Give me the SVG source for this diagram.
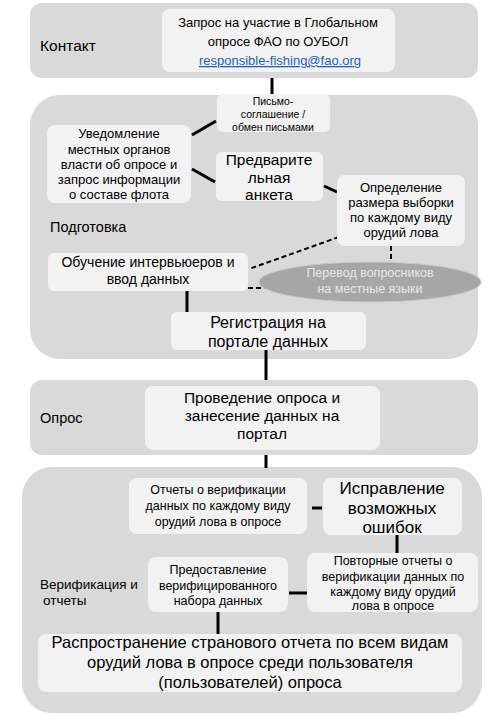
<svg xmlns="http://www.w3.org/2000/svg" width="500" height="723" viewBox="0 0 500 723">
<style>
.panel{fill:#d9d9d9}
.node{fill:#f2f2f2}
text{font-family:"Liberation Sans","Noto Sans",sans-serif;fill:#000;text-anchor:middle}
.lbl{text-anchor:start}
.c{stroke:#000;stroke-width:3;fill:none}
.d{stroke:#000;stroke-width:2;fill:none;stroke-dasharray:5 3}
.link{fill:#1f5fbf;text-decoration:underline}
</style>
<rect width="500" height="723" fill="#fff"/>
<g id="panels">
<rect class="panel" x="30" y="3" width="448" height="75" rx="12"/>
<rect class="panel" x="30" y="95" width="448" height="264" rx="30"/>
<rect class="panel" x="30" y="380" width="448" height="75" rx="12"/>
<rect class="panel" x="22" y="467" width="460" height="246" rx="30"/>
<text class="lbl" x="40" y="51" font-size="15.5">Контакт</text>
<text class="lbl" x="50" y="232" font-size="14.5">Подготовка</text>
<text class="lbl" x="40" y="423" font-size="14.5">Опрос</text>
<text class="lbl" x="40" y="589" font-size="13.5">Верификация и</text>
<text class="lbl" x="43" y="605" font-size="13.5">отчеты</text>
</g>
<g id="connectors">
<line class="c" x1="272" y1="78" x2="272" y2="95"/>
<line class="c" x1="192" y1="135" x2="216" y2="121"/>
<line class="c" x1="192" y1="169" x2="215" y2="182"/>
<line class="c" x1="324" y1="186" x2="337" y2="192"/>
<line class="d" x1="339" y1="237" x2="249" y2="269"/>
<line class="d" x1="391" y1="246" x2="391" y2="262"/>
<line class="d" x1="248" y1="288" x2="268" y2="288"/>
<line class="c" x1="187" y1="291" x2="187" y2="313"/>
<line class="c" x1="266" y1="350" x2="266" y2="380"/>
<line class="c" x1="266" y1="455" x2="266" y2="468"/>
<line class="c" x1="312" y1="508" x2="322" y2="508"/>
<line class="c" x1="397" y1="535" x2="397" y2="554"/>
<line class="c" x1="289" y1="593" x2="307" y2="593"/>
<line class="c" x1="218" y1="612" x2="218" y2="634"/>
</g>
<g id="n-request">
<rect class="node" x="162" y="9" width="233" height="63" rx="8"/>
<text x="278" y="27" font-size="13">Запрос на участие в Глобальном</text>
<text x="278" y="46" font-size="13">опросе ФАО по ОУБОЛ</text>
<text class="link" x="280" y="65" font-size="13">responsible-fishing@fao.org</text>
</g>
<g id="n-letter">
<rect class="node" x="217" y="94" width="113" height="38" rx="6"/>
<text x="273" y="105" font-size="10.5">Письмо-</text>
<text x="273" y="118" font-size="10.5">соглашение /</text>
<text x="273" y="131" font-size="10.5">обмен письмами</text>
</g>
<g id="n-notify">
<rect class="node" x="47" y="125" width="144" height="78" rx="8"/>
<text x="119" y="138" font-size="13">Уведомление</text>
<text x="119" y="154" font-size="13">местных органов</text>
<text x="119" y="169" font-size="13">власти об опросе и</text>
<text x="119" y="184" font-size="13">запрос информации</text>
<text x="119" y="199" font-size="13">о составе флота</text>
</g>
<g id="n-prelim">
<rect class="node" x="216" y="152" width="107" height="49" rx="6"/>
<text x="269" y="165" font-size="15.5">Предварите</text>
<text x="269" y="183" font-size="15.5">льная</text>
<text x="269" y="200" font-size="15.5">анкета</text>
</g>
<g id="n-sample">
<rect class="node" x="337" y="175" width="128" height="71" rx="8"/>
<text x="401" y="192" font-size="13">Определение</text>
<text x="401" y="207" font-size="13">размера выборки</text>
<text x="401" y="222" font-size="13">по каждому виду</text>
<text x="401" y="237" font-size="13">орудий лова</text>
</g>
<g id="n-training">
<rect class="node" x="48" y="253" width="200" height="38" rx="6"/>
<text x="148" y="267" font-size="14">Обучение интервьюеров и</text>
<text x="148" y="284" font-size="14">ввод данных</text>
</g>
<g id="n-translate">
<ellipse cx="370" cy="282" rx="111" ry="20" fill="#a6a6a6" stroke="#c8c8c8" stroke-width="1"/>
<text x="370" y="277" font-size="12.5" style="fill:#e8e8e8">Перевод вопросников</text>
<text x="370" y="293" font-size="12.5" style="fill:#e8e8e8">на местные языки</text>
</g>
<g id="n-register">
<rect class="node" x="171" y="312" width="195" height="38" rx="6"/>
<text x="268" y="328" font-size="16">Регистрация на</text>
<text x="268" y="347" font-size="16">портале данных</text>
</g>
<g id="n-survey">
<rect class="node" x="145" y="386" width="235" height="64" rx="8"/>
<text x="262" y="403" font-size="15.5">Проведение опроса и</text>
<text x="262" y="421" font-size="15.5">занесение данных на</text>
<text x="262" y="439" font-size="15.5">портал</text>
</g>
<g id="n-reports">
<rect class="node" x="129" y="478" width="178" height="56" rx="8"/>
<text x="218" y="494" font-size="12.5">Отчеты о верификации</text>
<text x="218" y="510" font-size="12.5">данных по каждому виду</text>
<text x="218" y="526" font-size="12.5">орудий лова в опросе</text>
</g>
<g id="n-fix">
<rect class="node" x="323" y="478" width="139" height="57" rx="8"/>
<text x="392" y="494" font-size="17">Исправление</text>
<text x="392" y="514" font-size="17">возможных</text>
<text x="392" y="533" font-size="17">ошибок</text>
</g>
<g id="n-repeat">
<rect class="node" x="307" y="553" width="171" height="59" rx="8"/>
<text x="393" y="565" font-size="12.5">Повторные отчеты о</text>
<text x="393" y="581" font-size="12.5">верификации данных по</text>
<text x="393" y="596" font-size="12.5">каждому виду орудий</text>
<text x="393" y="610" font-size="12.5">лова в опросе</text>
</g>
<g id="n-provide">
<rect class="node" x="148" y="557" width="140" height="55" rx="8"/>
<text x="218" y="574" font-size="12.5">Предоставление</text>
<text x="218" y="590" font-size="12.5">верифицированного</text>
<text x="218" y="605" font-size="12.5">набора данных</text>
</g>
<g id="n-distribute">
<rect class="node" x="38" y="634" width="424" height="58" rx="8"/>
<text x="250" y="648" font-size="16.5">Распространение странового отчета по всем видам</text>
<text x="250" y="668" font-size="16.5">орудий лова в опросе среди пользователя</text>
<text x="250" y="688" font-size="16.5">(пользователей) опроса</text>
</g>
</svg>
